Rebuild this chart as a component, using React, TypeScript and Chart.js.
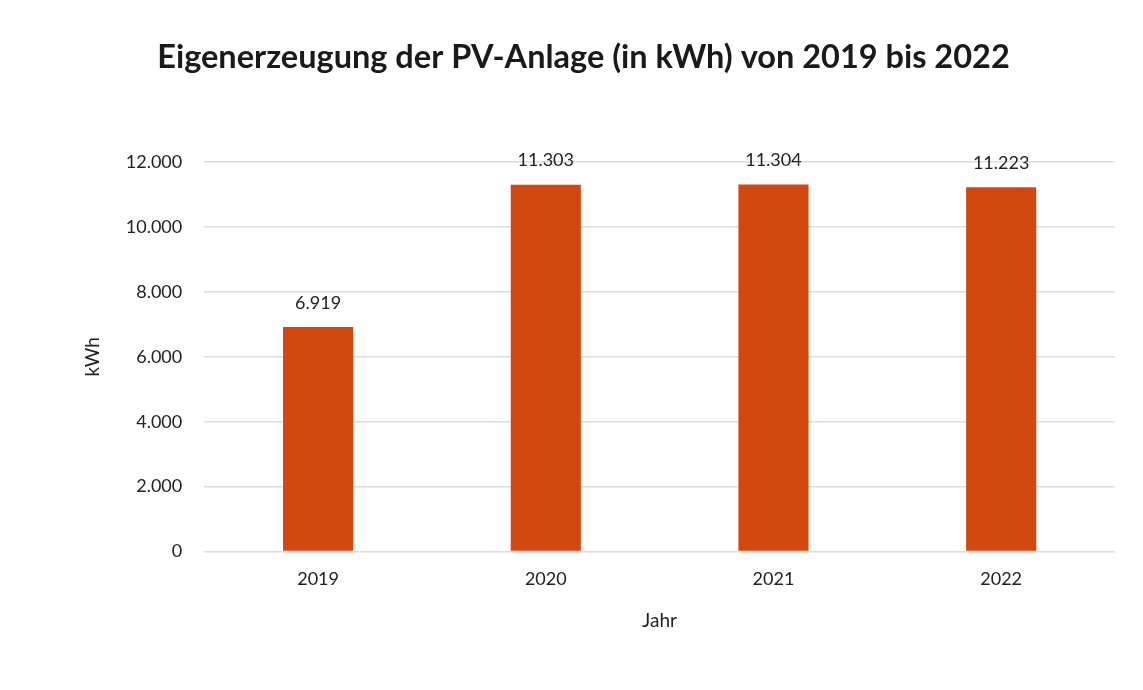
import React, { useEffect, useRef } from "react";
import { Chart, registerables } from "chart.js";

Chart.register(...registerables);

const categories = ["2019", "2020", "2021", "2022"];
const values = [6919, 11303, 11304, 11223];
const valueLabels = ["6.919", "11.303", "11.304", "11.223"];
const yTicks = [0, 2000, 4000, 6000, 8000, 10000, 12000];
const titleText = "Eigenerzeugung der PV-Anlage (in kWh) von 2019 bis 2022";

const FONT = "Lato, 'Open Sans', sans-serif";

const fmt = (v: number) => v.toLocaleString("de-DE");

const dataLabelPlugin = {
  id: "dataLabels",
  afterDatasetsDraw(chart: any) {
    const ctx = chart.ctx;
    const meta = chart.getDatasetMeta(0);
    ctx.save();
    ctx.font = `18px ${FONT}`;
    ctx.fillStyle = "#222";
    ctx.textAlign = "center";
    ctx.textBaseline = "middle";
    meta.data.forEach((bar: any, i: number) => {
      ctx.fillText(valueLabels[i], bar.x, bar.y - 24);
    });
    ctx.restore();
  },
};

const titlePlugin = {
  id: "pageTitle",
  afterDraw(chart: any) {
    const ctx = chart.ctx;
    ctx.save();
    ctx.font = `bold 32.5px ${FONT}`;
    ctx.fillStyle = "#1a1a1a";
    ctx.textAlign = "center";
    ctx.textBaseline = "middle";
    ctx.fillText(titleText, chart.width / 2 + 12, 58);
    ctx.restore();
  },
};

export default function App() {
  const ref = useRef<HTMLCanvasElement>(null);
  useEffect(() => {
    if (!ref.current) return;
    const chart = new Chart(ref.current, {
      type: "bar",
      data: {
        labels: categories,
        datasets: [
          {
            data: values,
            backgroundColor: "#D2480F",
            barPercentage: 0.308,
            categoryPercentage: 1,
          },
        ],
      },
      options: {
        responsive: false,
        animation: false,
        layout: { padding: { left: 81, right: 28, top: 162, bottom: 58 } },
        plugins: {
          legend: { display: false },
          tooltip: { enabled: false },
          title: { display: false },
        },
        scales: {
          x: {
            grid: { display: false, drawTicks: false },
            border: { display: false },
            ticks: { font: { family: FONT, size: 18 }, color: "#222", padding: 17 },
            title: {
              display: true,
              text: "Jahr",
              font: { family: FONT, size: 19 },
              color: "#222",
              padding: { top: 2, bottom: 0 },
            },
          },
          y: {
            min: 0,
            max: 12000,
            afterBuildTicks: (axis: any) => {
              axis.ticks = yTicks.map((v) => ({ value: v }));
            },
            grid: { color: "#dcdcdc", drawTicks: false, lineWidth: 1.5 },
            border: { display: false },
            ticks: {
              font: { family: FONT, size: 18 },
              color: "#222",
              padding: 22,
              callback: (v: any) => fmt(Number(v)),
            },
            title: {
              display: true,
              text: "kWh",
              font: { family: FONT, size: 19 },
              color: "#222",
              padding: { top: 0, bottom: 0 },
            },
          },
        },
      },
      plugins: [dataLabelPlugin, titlePlugin],
    });
    return () => chart.destroy();
  }, []);
  return (
    <div style={{ position: "absolute", left: 0, top: 0, width: 1143, height: 690, background: "#fff" }}>
      <canvas ref={ref} width={1143} height={690} />
    </div>
  );
}
